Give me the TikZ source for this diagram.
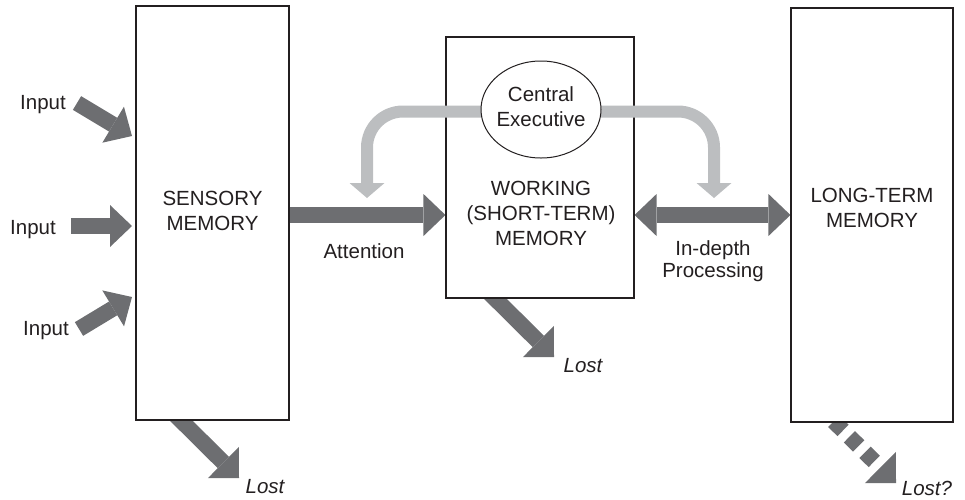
\documentclass[tikz,border=0pt]{standalone}
\usepackage{fontspec}
\setmainfont{Liberation Sans}
\usetikzlibrary{arrows.meta,shapes.geometric}
\definecolor{dk}{HTML}{6D6E71}
\definecolor{lt}{HTML}{BCBEC0}
\definecolor{ink}{HTML}{231F20}
\pgfdeclarelayer{under}
\pgfdeclarelayer{grayl}
\pgfdeclarelayer{over}
\pgfsetlayers{under,main,grayl,over}
\begin{document}
\begin{tikzpicture}[x=1pt,y=-1pt,
  memorybox/.style={draw=ink, line width=1.1pt, fill=white, inner sep=0pt},
  txt/.style={text=ink, font=\fontsize{20.5}{25}\selectfont, inner sep=0pt},
  lostlabel/.style={txt, font=\fontsize{20.5}{25}\selectfont\itshape, anchor=base},
  darkarrow/.style={draw=dk, line width=16pt, -{Triangle[length=22pt,width=42pt,line width=0pt]}},
  darkboth/.style={draw=dk, line width=16pt, {Triangle[length=22pt,width=42pt,line width=0pt]}-{Triangle[length=22pt,width=42pt,line width=0pt]}},
  lostarrow/.style={draw=dk, line width=16pt, -{Triangle[length=22pt,width=44pt,line width=0pt]}},
  grayarrow/.style={draw=lt, line width=12pt, rounded corners=36pt, -{Triangle[length=15pt,width=35pt,line width=0pt]}}
]
\useasboundingbox (0,0) rectangle (965,499);

% boxes
\node[memorybox, minimum width=153pt, minimum height=414pt] (sens) at (212.5,213) {};
\node[memorybox, minimum width=188pt, minimum height=261pt] (work) at (540,167.5) {};
\node[memorybox, minimum width=162pt, minimum height=414pt] (ltm) at (872,215) {};

% central executive
\begin{pgfonlayer}{over}
\node[ellipse, draw=ink, line width=1pt, fill=white, minimum width=120pt, minimum height=97pt, inner sep=0pt] (ce) at (541,109.5) {};
\node[txt, align=center] (cetext) at ([yshift=2.5pt]ce.center) {Central\\Executive};
\end{pgfonlayer}

% free ends
\coordinate (i1s) at (77,103);  \coordinate (i1t) at (132,136);
\coordinate (i2s) at (71,226);  \coordinate (i2t) at (132,226);
\coordinate (i3s) at (79,329);  \coordinate (i3t) at (132,297);
\coordinate (sl) at (239,478);
\coordinate (wl) at (554,357);
\coordinate (ll) at (896,483);
\coordinate (gl) at (367,198);
\coordinate (gr) at (714,198);

\begin{pgfonlayer}{under}
\draw[darkarrow] (i1s) -- (i1t);
\draw[darkarrow] (i2s) -- (i2t);
\draw[darkarrow] (i3s) -- (i3t);
\draw[darkarrow] ([yshift=-2pt]sens.east) -- ([yshift=-2pt]sens.east -| work.west);
\draw[darkboth] (work.east |- ltm.west) -- (ltm.west);
\draw[lostarrow] ([xshift=-41.5pt,yshift=10pt]sens.south) -- (sl);
\draw[lostarrow] ([xshift=-55pt,yshift=10pt]work.south) -- (wl);
\draw[lostarrow, dash pattern=on 13pt off 9pt, dash phase=9.6pt] ([xshift=-47pt,yshift=10pt]ltm.south) -- (ll);
\end{pgfonlayer}

\begin{pgfonlayer}{grayl}
\draw[grayarrow] ([yshift=-2pt]ce.center) -| (gl);
\draw[grayarrow] ([yshift=-2pt]ce.center) -| (gr);
\end{pgfonlayer}

% labels
\node[txt, anchor=base] (lin1) at (43,109) {Input};
\node[txt, anchor=base] (lin2) at (33,234) {Input};
\node[txt, anchor=base] (lin3) at (46,335) {Input};
\node[txt, align=center, font=\fontsize{20.5}{24.5}\selectfont] (lsens) at (212.5,210.7) {SENSORY\\MEMORY};
\node[txt, align=center] (lwork) at (541,213.7) {WORKING\\(SHORT-TERM)\\MEMORY};
\node[txt, align=center] (lltm) at (872,208) {LONG-TERM\\MEMORY};
\node[txt, anchor=base] (latt) at (364,258) {Attention};
\node[txt, align=center, font=\fontsize{20.5}{22}\selectfont] (lproc) at (713,260.7) {In-depth\\Processing};
\node[lostlabel] (lost1) at (265,493) {Lost};
\node[lostlabel] (lost2) at (583,372) {Lost};
\node[lostlabel] (lost3) at (927,495) {Lost?};
\end{tikzpicture}
\end{document}
